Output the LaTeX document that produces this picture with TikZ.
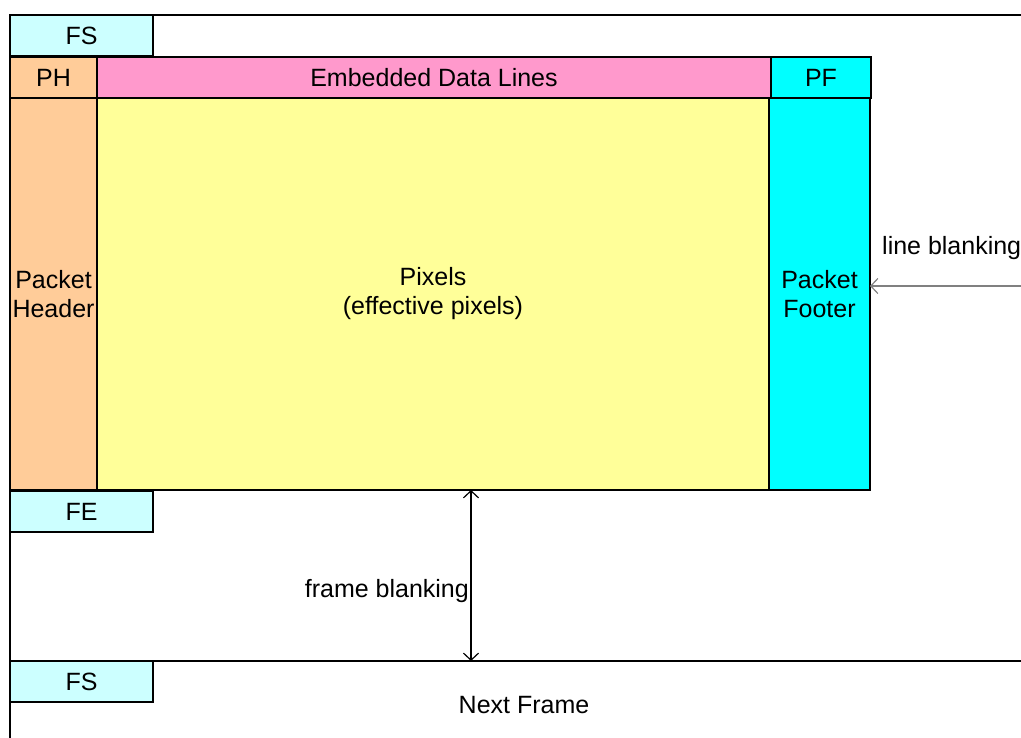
\documentclass[tikz,border=0pt]{standalone}
\usepackage{fontspec}
\setmainfont{Liberation Sans}
\usetikzlibrary{arrows.meta}
\definecolor{lcyan}{HTML}{CCFFFF}
\definecolor{peach}{HTML}{FFCC99}
\definecolor{pinkc}{HTML}{FF99CC}
\definecolor{cyanc}{HTML}{00FFFF}
\definecolor{yel}{HTML}{FFFF99}
\definecolor{gr}{HTML}{808080}
\tikzset{
  box/.style={draw=black, line width=1.8pt, anchor=north west, inner sep=0pt, outer sep=0pt, align=center, font=\fontsize{25}{29}\selectfont},
  lbl/.style={inner sep=0pt, font=\fontsize{25}{29}\selectfont},
  frameline/.style={draw=black, line width=1.8pt},
  tipv/.tip={Straight Barb[length=7pt,width=15pt]}
}
\begin{document}
\begin{tikzpicture}[x=1pt,y=-1pt]
\useasboundingbox (0,0) rectangle (1021,738);
\clip (0,0) rectangle (1021,738);
% frame lines
\coordinate (tl) at (10,15);
\coordinate (tr) at (1021,15);
\coordinate (bl) at (10,738);
\coordinate (nl) at (10,661);
\coordinate (nr) at (1021,661);
\draw[frameline] (tr) -- (tl) -- (bl);
\draw[frameline] (nl) -- (nr);
% boxes
\node[box, fill=lcyan, minimum width=143, minimum height=41] (fs1) at (10,15) {FS};
\node[box, fill=peach, minimum width=87, minimum height=41] (ph) at (10,57) {PH};
\node[box, fill=pinkc, minimum width=674, minimum height=41] (edl) at (97,57) {Embedded Data Lines};
\node[box, fill=cyanc, minimum width=100, minimum height=41] (pf) at (771,57) {PF};
\node[box, fill=peach, minimum width=87, minimum height=392] (phd) at (10,98) {Packet\\Header};
\node[box, fill=yel, minimum width=672, minimum height=392] (pix) at (97,98) {Pixels\\(effective pixels)};
\node[box, fill=cyanc, minimum width=101, minimum height=392] (pft) at (769,98) {Packet\\Footer};
\node[box, fill=lcyan, minimum width=143, minimum height=41] (fe) at (10,491) {FE};
\node[box, fill=lcyan, minimum width=143, minimum height=41] (fs2) at (10,661) {FS};
% labels
\node[lbl, anchor=east] (fbl) at (469,591) {frame blanking};
\node[lbl, anchor=west] (lbl) at (882,248) {line blanking};
\node[lbl] (nf) at (524,705) {Next Frame};
% arrows
\coordinate (fb) at (471,661);
\draw[line width=1.2pt, tipv-tipv] (pix.south -| fb) -- (fb);
\coordinate (lb) at (1021,286);
\draw[gr, line width=1.2pt, -tipv] (lb) -- (pft.east |- lb);
\end{tikzpicture}
\end{document}
